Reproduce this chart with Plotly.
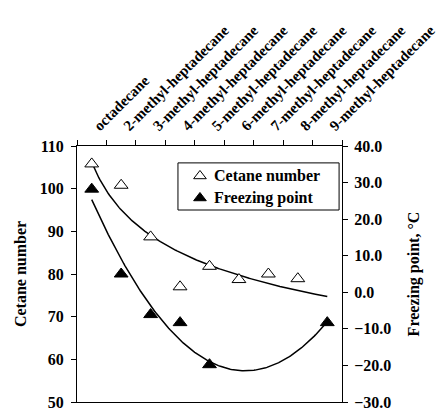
import numpy as np
import plotly.graph_objects as go

categories = ["octadecane", "2-methyl-heptadecane", "3-methyl-heptadecane",
              "4-methyl-heptadecane", "5-methyl-heptadecane", "6-methyl-heptadecane",
              "7-methyl-heptadecane", "8-methyl-heptadecane", "9-methyl-heptadecane"]
cetane_x = [1, 2, 3, 4, 5, 6, 7, 8]
cetane = [105.8, 100.8, 88.7, 77.0, 81.8, 78.7, 80.0, 78.9]
freeze_x = [1, 2, 3, 4, 5, 9]
freeze = [28.2, 5.0, -6.1, -8.3, -19.8, -8.3]
series_names = ["Cetane number", "Freezing point"]

# trend lines (as Excel would): power fit for cetane, 2nd-order polynomial for freezing point
xs = np.linspace(1, 9, 200)
b, lna = np.polyfit(np.log(cetane_x), np.log(cetane), 1)
cet_fit = np.exp(lna) * xs ** b
pc = np.polyfit(freeze_x, freeze, 2)
frz_fit = np.polyval(pc, xs)

FONT = "Liberation Serif"
fig = go.Figure()
fig.add_trace(go.Scatter(x=xs, y=cet_fit, mode="lines", line=dict(color="black", width=1.5),
                         showlegend=False, hoverinfo="skip"))
fig.add_trace(go.Scatter(x=xs, y=frz_fit, mode="lines", line=dict(color="black", width=1.5),
                         showlegend=False, hoverinfo="skip", yaxis="y2"))
fig.add_trace(go.Scatter(x=cetane_x, y=cetane, mode="markers", name=series_names[0],
                         showlegend=False,
                         marker=dict(symbol="triangle-up", size=12, color="white",
                                     line=dict(color="black", width=1))))
fig.add_trace(go.Scatter(x=freeze_x, y=freeze, mode="markers", name=series_names[1],
                         yaxis="y2", showlegend=False,
                         marker=dict(symbol="triangle-up", size=12, color="black",
                                     line=dict(color="black", width=1))))

# legend box (drawn manually, Excel-style)
LX0, LX1, LY0, LY1 = 0.381, 0.989, 0.75, 0.934
leg_y = [0.883, 0.797]
fig.add_shape(type="rect", xref="paper", yref="paper", x0=LX0, x1=LX1, y0=LY0, y1=LY1,
              line=dict(color="black", width=1), fillcolor="white", layer="below")
fig.add_trace(go.Scatter(x=[0.464, 0.464], y=leg_y, mode="markers", xaxis="x2", yaxis="y3",
                         showlegend=False, hoverinfo="skip",
                         marker=dict(symbol="triangle-up", size=11, color=["white", "black"],
                                     line=dict(color="black", width=1))))
for name, yy in zip(series_names, leg_y):
    fig.add_annotation(x=0.509, y=yy, xref="paper", yref="paper", text=name, showarrow=False,
                       xanchor="left", yanchor="middle",
                       font=dict(size=16, family=FONT, weight="bold", color="black"))

fig.update_layout(
    width=440, height=402,
    margin=dict(l=69, r=106, t=138, b=8),
    paper_bgcolor="white", plot_bgcolor="white",
    font=dict(family=FONT, color="black", size=14, weight="bold"),
    showlegend=False,
    xaxis=dict(side="top", range=[0.5, 9.5], tickvals=list(range(1, 10)), ticktext=categories,
               tickangle=-45, ticks="outside", ticklen=0, showgrid=False, zeroline=False,
               showline=True, linecolor="black", linewidth=1, mirror=True, automargin=False,
               ticklabeloverflow="allow", ticklabelstandoff=5, ticklabelshift=3,
               tickfont=dict(size=15, family=FONT, weight="bold"),
               minor=dict(tickvals=[i + 0.5 for i in range(0, 10)], ticks="outside",
                          ticklen=5, tickcolor="black", showgrid=False)),
    xaxis2=dict(overlaying="x", range=[0, 1], visible=False),
    yaxis3=dict(overlaying="y", range=[0, 1], visible=False),
    yaxis=dict(range=[50, 110], dtick=10, ticks="outside", ticklen=5, tickcolor="black",
               showgrid=False, zeroline=False, showline=True, linecolor="black", linewidth=1,
               automargin=False, ticklabelstandoff=4, ticklabeloverflow="allow",
               title=dict(text="Cetane number", font=dict(size=16, family=FONT, weight="bold"),
                          standoff=9),
               tickfont=dict(size=16, family=FONT, weight="bold")),
    yaxis2=dict(range=[-30, 40], dtick=10, tickformat=".1f", overlaying="y", side="right",
                ticks="outside", ticklen=5, tickcolor="black", showgrid=False, zeroline=False,
                showline=True, linecolor="black", linewidth=1, automargin=False,
                ticklabelstandoff=3, ticklabeloverflow="allow",
                title=dict(text="Freezing point, °C", font=dict(size=16, family=FONT, weight="bold"),
                           standoff=17),
                tickfont=dict(size=16, family=FONT, weight="bold")),
)
fig.write_html("out.html")
